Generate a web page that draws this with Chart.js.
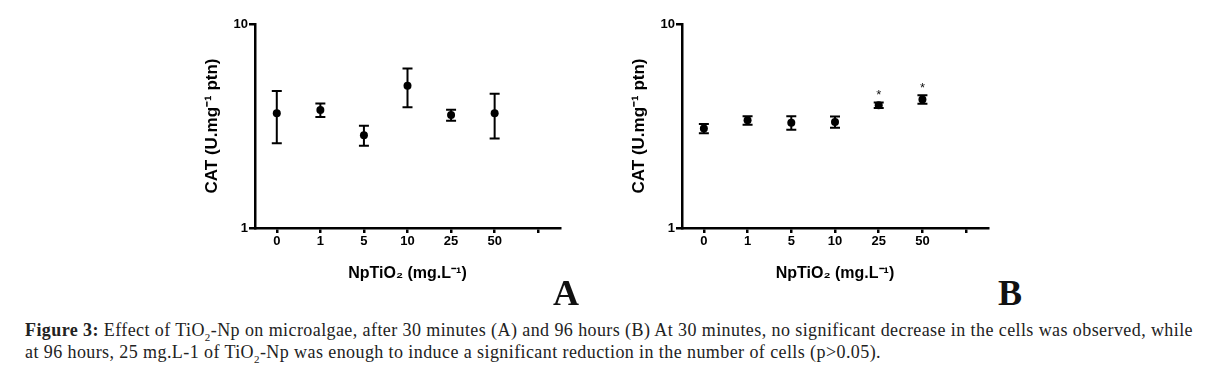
<!DOCTYPE html>
<html>
<head>
<meta charset="utf-8">
<script src="https://cdn.jsdelivr.net/npm/chart.js@4.4.1/dist/chart.umd.min.js"></script>
<style>
  html, body { margin: 0; padding: 0; background: #fff; }
  body { width: 1211px; height: 377px; position: relative; overflow: hidden; }
  canvas { position: absolute; }
  .panel { position: absolute; font-family: "Liberation Serif", serif; font-weight: bold; font-size: 36px; color: #111; }
  .cap { position: absolute; left: 25px; font-family: "Liberation Serif", serif; font-size: 18px; color: #222; white-space: nowrap; line-height: 20px; }
</style>
</head>
<body>
<canvas id="cA" width="420" height="300" style="left:150px;top:0px"></canvas>
<canvas id="cB" width="420" height="300" style="left:577px;top:0px"></canvas>
<div class="panel" style="left:553px;top:272px">A</div>
<div class="panel" style="left:998px;top:272px">B</div>
<div class="cap" id="l1" style="top:320px"><b>Figure 3:</b> Effect of TiO<sub style="font-size:11px">2</sub>-Np on microalgae, after 30 minutes (A) and 96 hours (B) At 30 minutes, no significant decrease in the cells was observed, while</div>
<div class="cap" id="l2" style="top:342px">at 96 hours, 25 mg.L-1 of TiO<sub style="font-size:11px">2</sub>-Np was enough to induce a significant reduction in the number of cells (p&gt;0.05).</div>
<script>
// ---- data ----
const categories = ['0', '1', '5', '10', '25', '50', ''];
const meanA = [3.65, 3.79, 2.85, 4.98, 3.58, 3.65, null];
const semA  = [1.05, 0.29, 0.32, 1.07, 0.22, 0.90, null];
const meanB = [3.07, 3.37, 3.28, 3.31, 4.00, 4.27, null];
const semB  = [0.16, 0.16, 0.25, 0.21, 0.12, 0.20, null];
const sigB  = ['', '', '', '', '*', '*', ''];
const yTicks = [1, 10];
const yTitle = 'CAT (U.mg\u207B\u00B9 ptn)';
const xTitle = 'NpTiO\u2082 (mg.L\u207B\u00B9)';

// caption fitting
(function(){
  const l1 = document.getElementById('l1'), l2 = document.getElementById('l2');
  const target = 1168;
  const w = l1.getBoundingClientRect().width;
  const n = l1.textContent.length;
  const ls = (target - w) / n;
  l1.style.letterSpacing = ls + 'px';
  l2.style.letterSpacing = ls + 'px';
})();

const FONT = '"Liberation Sans", Arial, sans-serif';

const errorBarPlugin = {
  id: 'errorBars',
  afterDatasetsDraw(chart, args, opts) {
    const ctx = chart.ctx;
    const xs = chart.scales.x, ys = chart.scales.y;
    const ds = chart.data.datasets[0];
    const sem = opts.sem, sig = opts.sig || [];
    ctx.save();
    ctx.strokeStyle = '#000';
    ctx.lineWidth = 2;
    ds.data.forEach((v, i) => {
      if (v == null) return;
      const x = xs.getPixelForValue(i);
      const yT = ys.getPixelForValue(v + sem[i]);
      const yB = ys.getPixelForValue(v - sem[i]);
      ctx.beginPath();
      ctx.moveTo(x, yT); ctx.lineTo(x, yB);
      ctx.moveTo(x - 5, yT); ctx.lineTo(x + 5, yT);
      ctx.moveTo(x - 5, yB); ctx.lineTo(x + 5, yB);
      ctx.stroke();
      if (sig[i]) {
        ctx.fillStyle = '#111';
        ctx.font = '13px ' + FONT;
        ctx.textAlign = 'center';
        ctx.textBaseline = 'middle';
        ctx.fillText(sig[i], x, yT - 7);
      }
    });
    ctx.restore();
  }
};

function makeChart(id, means, sem, sig, padRight) {
  return new Chart(document.getElementById(id), {
    type: 'line',
    data: {
      labels: categories,
      datasets: [{
        data: means,
        showLine: false,
        pointRadius: 4,
        pointHoverRadius: 4,
        pointBackgroundColor: '#000',
        pointBorderColor: '#000',
        pointBorderWidth: 0
      }]
    },
    plugins: [errorBarPlugin],
    options: {
      responsive: false,
      animation: false,
      layout: { padding: { top: 24, right: padRight, left: 0, bottom: 0 } },
      plugins: {
        legend: { display: false },
        tooltip: { enabled: false },
        errorBars: { sem: sem, sig: sig }
      },
      scales: {
        x: {
          type: 'category',
          offset: true,
          grid: { display: true, drawOnChartArea: false, offset: false, color: '#000', lineWidth: 2.5, tickLength: 5, tickWidth: 2.5, tickColor: '#000' },
          border: { display: true, color: '#000', width: 2.5 },
          ticks: { color: '#000', font: { family: FONT, weight: 'bold', size: 13 }, padding: 1, maxRotation: 0, autoSkip: false },
          title: { display: true, text: xTitle, color: '#000', font: { family: FONT, weight: 'bold', size: 16 }, padding: { top: 0, bottom: 17 } },
          afterFit(s) { s.height = 72; }
        },
        y: {
          type: 'logarithmic',
          min: 1, max: 10,
          afterBuildTicks(s) { s.ticks = yTicks.map(v => ({ value: v })); },
          grid: { display: true, drawOnChartArea: false, color: '#000', lineWidth: 2.5, tickLength: 6, tickWidth: 2.5, tickColor: '#000' },
          border: { display: true, color: '#000', width: 2.5 },
          ticks: { color: '#000', font: { family: FONT, weight: 'bold', size: 13 }, padding: 1, callback: v => String(v) },
          title: { display: true, text: yTitle, color: '#000', font: { family: FONT, weight: 'bold', size: 17 }, padding: { top: 52, bottom: 0 } },
          afterFit(s) { s.width = 105; }
        }
      }
    }
  });
}

makeChart('cA', meanA, semA, [], 10);
makeChart('cB', meanB, semB, sigB, 9);
</script>
</body>
</html>
